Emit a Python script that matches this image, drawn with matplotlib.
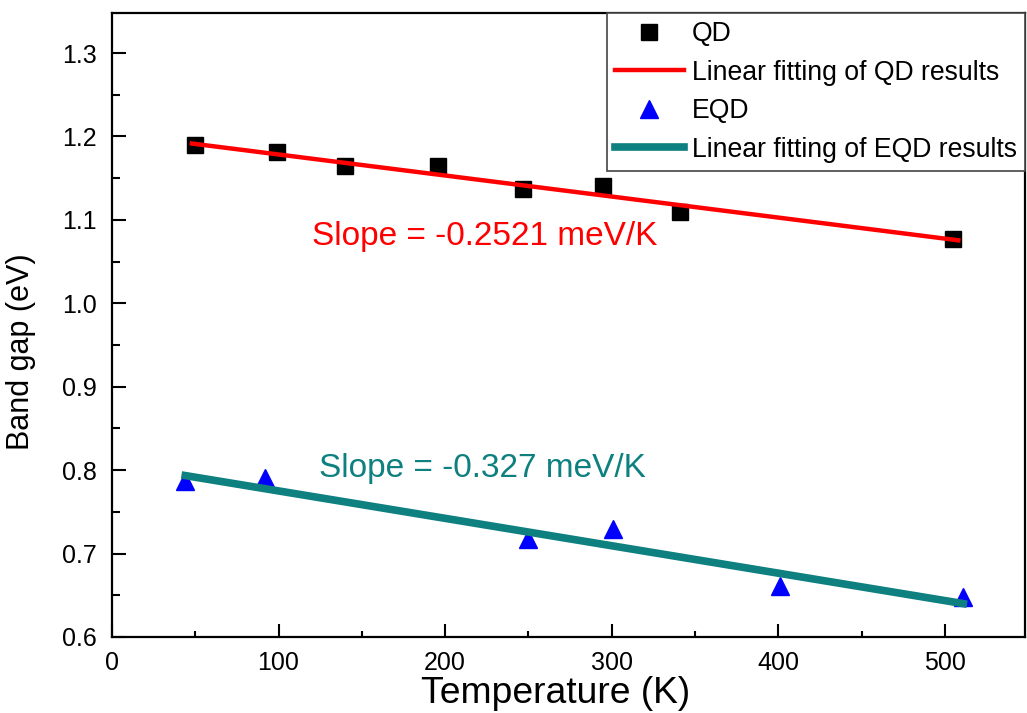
import matplotlib
matplotlib.use("Agg")
import matplotlib.pyplot as plt
from matplotlib.ticker import MultipleLocator

plt.rcParams['font.family'] = ['Liberation Sans', 'DejaVu Sans']

# Data
qd_T = [50, 99, 140, 196, 247, 295, 341, 505]
qd_E = [1.190, 1.181, 1.165, 1.165, 1.137, 1.141, 1.110, 1.077]
qd_fit_T = [48, 508]
qd_fit_E = [1.1915, 1.0755]

eqd_T = [44, 92, 250, 301, 401, 511]
eqd_E = [0.787, 0.790, 0.718, 0.730, 0.661, 0.648]
eqd_fit_T = [44, 511]
eqd_fit_E = [0.7935, 0.640]

legend_labels = ["QD", "Linear fitting of QD results", "EQD", "Linear fitting of EQD results"]
qd_note = "Slope = -0.2521 meV/K"
eqd_note = "Slope = -0.327 meV/K"

red = "#ff0000"
teal = "#0e8080"

fig = plt.figure(figsize=(10.27, 7.13), dpi=100)
ax = fig.add_axes([0.109, 0.1066, 0.889, 0.8752])

ax.plot(qd_T, qd_E, linestyle='none', marker='s', markersize=11, color='black', label=legend_labels[0], zorder=3)
ax.plot(qd_fit_T, qd_fit_E, color=red, linewidth=3.2, label=legend_labels[1], zorder=4)
ax.plot(eqd_T, eqd_E, linestyle='none', marker='^', markersize=13, color='#0000ff', label=legend_labels[2], zorder=3)
ax.plot(eqd_fit_T, eqd_fit_E, color=teal, linewidth=5.5, label=legend_labels[3], zorder=4)

ax.text(120, 1.080, qd_note, color=red, fontsize=24, ha='left', va='center')
ax.text(124, 0.802, eqd_note, color=teal, fontsize=24, ha='left', va='center')

ax.set_xlim(0, 548)
ax.set_ylim(0.6, 1.348)
ax.xaxis.set_major_locator(MultipleLocator(100))
ax.xaxis.set_minor_locator(MultipleLocator(50))
ax.yaxis.set_major_locator(MultipleLocator(0.1))
ax.yaxis.set_minor_locator(MultipleLocator(0.05))
ax.yaxis.set_major_formatter(plt.FuncFormatter(lambda v, p: f"{v:.1f}"))

ax.tick_params(which='both', direction='in', top=False, right=False, width=1.5, labelsize=18)
ax.tick_params(axis='y', which='major', length=10, pad=11)
ax.tick_params(axis='y', which='minor', length=5.5)
ax.tick_params(axis='x', which='major', length=9.5, pad=10)
ax.tick_params(axis='x', which='minor', length=4.5)
for s in ax.spines.values():
    s.set_linewidth(1.6)

ax.set_xlabel("Temperature (K)", fontsize=26.8)
ax.xaxis.set_label_coords(0.486, -0.062)
ax.set_ylabel("Band gap (eV)", fontsize=22)
ax.yaxis.set_label_coords(-0.083, 0.458)

leg = ax.legend(loc='upper right', borderaxespad=0, fancybox=False, fontsize=19.2,
                handlelength=2.6, handletextpad=0.3, borderpad=0.3, labelspacing=0.47,
                framealpha=1, edgecolor='#444444')
leg.get_frame().set_linewidth(1.2)

fig.savefig("out.png", dpi=100)
